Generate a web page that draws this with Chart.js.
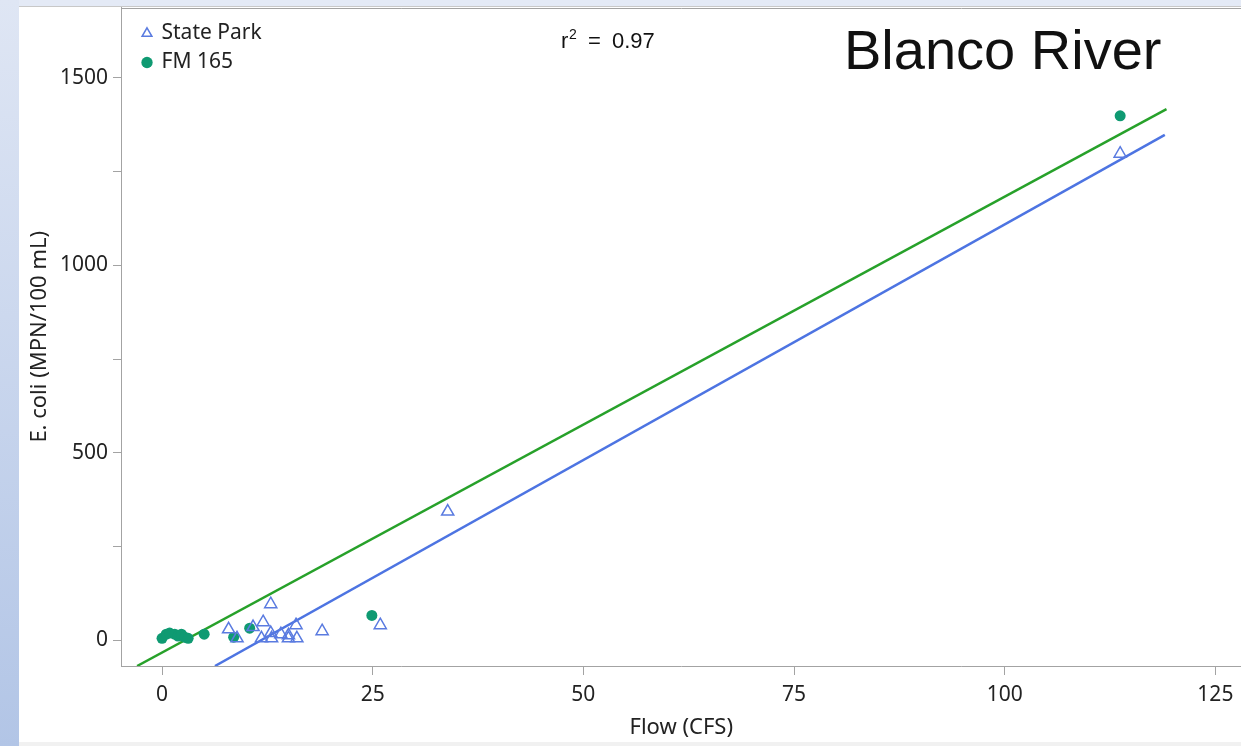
<!DOCTYPE html>
<html>
<head>
<meta charset="utf-8">
<script src="https://cdn.jsdelivr.net/npm/chart.js@4/dist/chart.umd.min.js"></script>
<style>
  html, body { margin: 0; padding: 0; }
  body { width: 1241px; height: 746px; background: #e4eaf6; position: relative; overflow: hidden; }
  #strip { position: absolute; left: 0; top: 0; width: 19px; height: 746px;
           background: linear-gradient(to bottom, #dfe6f4, #b2c5e6); }
  #panel { position: absolute; left: 19px; top: 6px; width: 1222px; height: 736px; background: #fff;
           border-top: 1px solid #c8c8c8; box-sizing: border-box; }
  #foot { position: absolute; left: 19px; top: 742px; width: 1222px; height: 4px; background: #f1f1f1; }
  /* Chart.js keeps a few px above and right of the plot; the box is set so the frame lands where the slide has it */
  #wrap { position: absolute; left: 19px; top: -1px; width: 1231px; height: 743px; }
</style>
</head>
<body>
<div id="strip"></div>
<div id="panel"></div>
<div id="foot"></div>
<div id="wrap"><canvas id="chart"></canvas></div>
<script>
// values
const stateParkFlow  = [113.7, 33.9, 7.9, 8.9, 10.8, 12.0, 11.8, 12.9, 12.9, 13.0, 14.1, 15.0, 15.0, 15.9, 16.0, 19.0, 25.9];
const stateParkEcoli = [1298, 343, 29, 5, 35, 48, 5, 96, 19, 5, 16, 13, 5, 40, 5, 24, 40];

const fm165Flow  = [113.7, 24.9, 10.4, 8.5, 5.0, 0, 0.5, 0.9, 1.5, 1.9, 2.3, 2.7, 3.1];
const fm165Ecoli = [1399, 66, 32, 8, 16, 5, 16, 19, 16, 11, 16, 8, 5];

// fitted lines, end points as seen in the plot
const fmFitFlow  = [-2.96, 119.2];
const fmFitEcoli = [-69, 1417];
const spFitFlow  = [6.28, 119.0];
const spFitEcoli = [-69, 1348];

const xMin = -4.87, xMax = 128.1;
const yMin = -69, yMax = 1688;
const xTicks = [0, 25, 50, 75, 100, 125];
const yTicks = [0, 250, 500, 750, 1000, 1250, 1500];

const toPoints = (xs, ys) => xs.map((x, i) => ({ x, y: ys[i] }));

const FONT = "'Noto Sans', 'Open Sans', sans-serif";
const blue = '#5a7be0';
const green = '#0f9a72';
const axisGrey = '#a3a3a3';

// blank ticks at both ends of an axis keep Chart.js from padding the plot for label overhang
const withEnds = (min, max, list) => [min, ...list, max].map(v => ({ value: v }));
const isEnd = (s, v) => v === s.min || v === s.max;

const annotations = {
  id: 'annotations',
  afterLayout(chart) {
    chart.legend.left += 14;
    chart.legend.top += 16;
  },
  afterDraw(chart) {
    const { ctx, chartArea } = chart;
    ctx.save();
    // top border of the plot frame
    ctx.strokeStyle = axisGrey;
    ctx.lineWidth = 1;
    ctx.beginPath();
    ctx.moveTo(chartArea.left, Math.round(chartArea.top) + 0.5);
    ctx.lineTo(chartArea.right, Math.round(chartArea.top) + 0.5);
    ctx.stroke();

    // page coordinates shifted into the canvas (canvas starts at page x 19, y -1)
    ctx.fillStyle = '#111';
    ctx.textBaseline = 'alphabetic';
    ctx.font = "22px 'Liberation Sans', sans-serif";
    ctx.fillText('r', 542, 49);
    ctx.font = "14px 'Liberation Sans', sans-serif";
    ctx.fillText('2', 550, 40);
    ctx.font = "22px 'Liberation Sans', sans-serif";
    ctx.fillText('=', 569, 49);
    ctx.fillText('0.97', 593, 49);

    ctx.font = "56px 'Liberation Sans', sans-serif";
    ctx.fillText('Blanco River', 825, 70);
    ctx.restore();
  }
};

new Chart(document.getElementById('chart'), {
  type: 'scatter',
  data: {
    datasets: [
      {
        label: 'State Park',
        data: toPoints(stateParkFlow, stateParkEcoli),
        pointStyle: 'triangle',
        pointRadius: 7,
        pointBorderWidth: 1.5,
        borderColor: blue,
        backgroundColor: 'rgba(255,255,255,0)',
        order: 1
      },
      {
        label: 'FM 165',
        data: toPoints(fm165Flow, fm165Ecoli),
        pointStyle: 'circle',
        pointRadius: 5.5,
        borderWidth: 0,
        borderColor: green,
        backgroundColor: green,
        order: 1
      },
      {
        label: 'FM 165 fit',
        type: 'line',
        data: toPoints(fmFitFlow, fmFitEcoli),
        borderColor: '#27a12a',
        borderWidth: 2.5,
        pointRadius: 0,
        order: 2
      },
      {
        label: 'State Park fit',
        type: 'line',
        data: toPoints(spFitFlow, spFitEcoli),
        borderColor: '#4d74e2',
        borderWidth: 2.5,
        pointRadius: 0,
        order: 2
      }
    ]
  },
  options: {
    responsive: true,
    maintainAspectRatio: false,
    animation: false,
    layout: { padding: { top: 1, right: 0, bottom: 0, left: 0 } },
    plugins: {
      tooltip: { enabled: false },
      legend: {
        position: 'chartArea',
        align: 'start',
        labels: {
          usePointStyle: true,
          boxWidth: 8,
          boxHeight: 8,
          padding: 8,
          color: '#222',
          font: { family: FONT, size: 21 },
          filter: item => item.datasetIndex < 2
        }
      }
    },
    scales: {
      x: {
        type: 'linear',
        min: xMin,
        max: xMax,
        afterBuildTicks: s => { s.ticks = withEnds(xMin, xMax, xTicks); },
        afterFit: s => { s.height = 76; s.paddingLeft = 0; s.paddingRight = 0; },
        border: { color: axisGrey },
        grid: { drawOnChartArea: false, tickLength: 9,
                color: c => (c.tick && isEnd(c.scale, c.tick.value) ? 'rgba(0,0,0,0)' : axisGrey) },
        ticks: { color: '#222', padding: 7, font: { family: FONT, size: 21 },
                 callback: function (v) { return isEnd(this, v) ? null : v; } },
        title: { display: true, text: 'Flow (CFS)', color: '#222', padding: { top: 0, bottom: 1 },
                 font: { family: FONT, size: 22 } }
      },
      y: {
        type: 'linear',
        min: yMin,
        max: yMax,
        afterBuildTicks: s => { s.ticks = withEnds(yMin, yMax, yTicks); },
        afterFit: s => { s.width = 102; s.paddingTop = 0; s.paddingBottom = 0; },
        border: { color: axisGrey },
        grid: { drawOnChartArea: false, tickLength: 8,
                color: c => (c.tick && isEnd(c.scale, c.tick.value) ? 'rgba(0,0,0,0)' : axisGrey) },
        ticks: { color: '#222', padding: 5, font: { family: FONT, size: 21 },
                 callback: function (v) { return isEnd(this, v) ? null : (v % 500 === 0 ? v : ''); } },
        title: { display: true, text: 'E. coli (MPN/100 mL)', color: '#222', padding: { top: 8, bottom: 0 },
                 font: { family: FONT, size: 22 } }
      }
    }
  },
  plugins: [annotations]
});
</script>
</body>
</html>
